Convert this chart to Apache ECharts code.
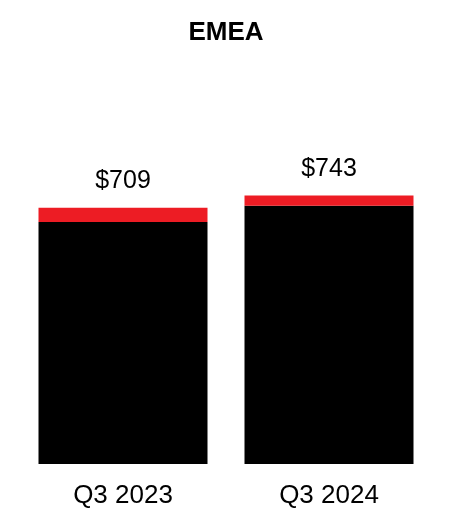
<!DOCTYPE html>
<html>
<head>
<meta charset="utf-8">
<script src="https://cdn.jsdelivr.net/npm/echarts@6/dist/echarts.min.js"></script>
<style>
  html, body { margin: 0; padding: 0; background: #fff; }
  #chart { width: 452px; height: 532px; }
</style>
</head>
<body>
<div id="chart"></div>
<script>
const categories = ['Q3 2023', 'Q3 2024']
const baseValues = [670, 715]
const topValues = [39, 28]
const totals = [709, 743]

const chart = echarts.init(document.getElementById('chart'))

const option = {
  animation: false,
  title: {
    text: 'EMEA',
    left: 'center',
    top: 15,
    textStyle: { fontFamily: 'Liberation Sans', fontSize: 26, fontWeight: 'bold', color: '#000' }
  },
  grid: { left: 20, right: 20, top: 175, bottom: 68 },
  xAxis: {
    type: 'category',
    data: categories,
    axisLine: { show: false },
    axisTick: { show: false },
    axisLabel: { fontFamily: 'Liberation Sans', fontSize: 26, color: '#000', margin: 19 }
  },
  yAxis: {
    type: 'value',
    min: 0,
    max: 800,
    show: false
  },
  series: [
    {
      type: 'bar',
      stack: 'total',
      barWidth: 169,
      data: baseValues,
      itemStyle: { color: '#000' }
    },
    {
      type: 'bar',
      stack: 'total',
      barWidth: 169,
      data: topValues,
      itemStyle: { color: '#ed1c24' },
      label: {
        show: true,
        position: 'top',
        distance: 14,
        fontFamily: 'Liberation Sans',
        fontSize: 25,
        color: '#000',
        formatter: p => '$' + totals[p.dataIndex]
      }
    }
  ]
}

chart.setOption(option)
</script>
</body>
</html>
